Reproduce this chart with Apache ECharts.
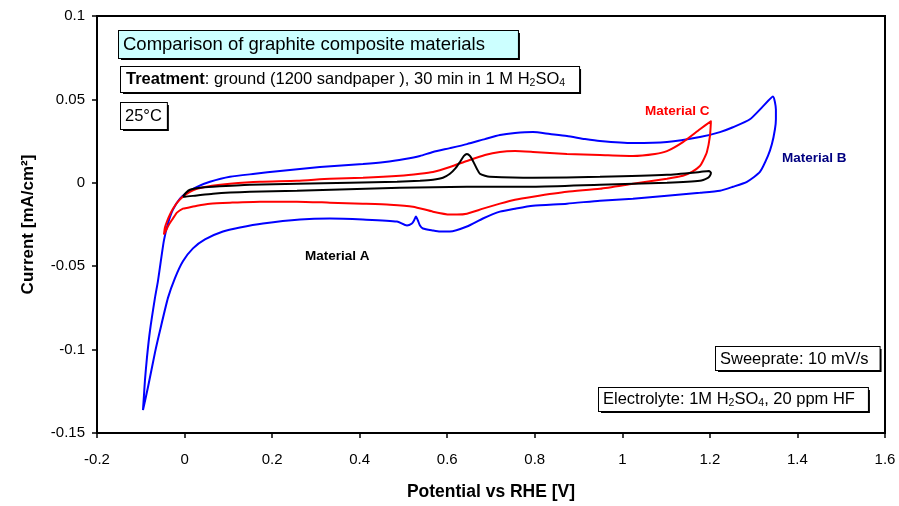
<!DOCTYPE html>
<html>
<head>
<meta charset="utf-8">
<script src="https://cdn.jsdelivr.net/npm/echarts@6/dist/echarts.min.js"></script>
<style>
  html, body { margin: 0; padding: 0; background: #fff; }
  #chart { width: 899px; height: 506px; }
</style>
</head>
<body>
<div id="chart"></div>
<script>
// Material A (black)
var potentialA = [-0.0037, 0.0032, 0.0123, 0.0352, 0.0649, 0.1494, 0.2567, 0.3778, 0.4852, 0.5377, 0.5674, 0.5902, 0.6062, 0.6176, 0.6291, 0.6382, 0.6450, 0.6519, 0.6588, 0.6679, 0.6747, 0.6862, 0.6976, 0.7958, 0.9488, 1.1019, 1.1772, 1.1978,
  1.2024, 1.2001, 1.1955, 1.1772, 1.1019, 0.9488, 0.7958, 0.6450, 0.4920, 0.2567, 0.1494, 0.0649, 0.0238, 0.0009, -0.0037];
var currentA = [-0.0083, -0.0060, -0.0042, -0.0030, -0.0024, -0.0012, -0.0006, 0.0000, 0.0006, 0.0012, 0.0018, 0.0030, 0.0054, 0.0083, 0.0125, 0.0161, 0.0173, 0.0161, 0.0131, 0.0083, 0.0054, 0.0042, 0.0036, 0.0030, 0.0036, 0.0048, 0.0065, 0.0071,
  0.0060, 0.0042, 0.0030, 0.0012, 0.0000, -0.0012, -0.0024, -0.0024, -0.0030, -0.0048, -0.0054, -0.0065, -0.0077, -0.0083, -0.0083];

// Material B (blue)
var potentialB = [-0.0950, -0.0927, -0.0905, -0.0859, -0.0790, -0.0676, -0.0608, -0.0539, -0.0471, -0.0379, -0.0265, -0.0105, 0.0078, 0.0283, 0.0580, 0.1037, 0.1608, 0.2179, 0.3093, 0.4075, 0.4577, 0.5034, 0.5377, 0.5674, 0.6062, 0.6450, 0.6862, 0.7204, 0.7547, 0.7958, 0.8346, 0.8734, 0.9146, 0.9488, 1.0242, 1.1019, 1.1772, 1.2229, 1.2526, 1.2915, 1.3211, 1.3440,
  1.3508, 1.3508, 1.3486, 1.3417, 1.3326, 1.3143, 1.2846, 1.2526, 1.2229, 1.1772, 1.1019, 1.0242, 0.9488, 0.8734, 0.7958, 0.7547, 0.7204, 0.6816, 0.6450, 0.6062, 0.5834, 0.5674, 0.5445, 0.5377, 0.5331, 0.5285, 0.5240, 0.5194, 0.5080, 0.4852, 0.4075, 0.3321, 0.2636, 0.1791, 0.1265, 0.0877, 0.0466, 0.0192, -0.0037, -0.0219, -0.0379, -0.0562, -0.0676, -0.0836, -0.0950];
var currentB = [-0.1363, -0.1274, -0.1185, -0.1048, -0.0887, -0.0690, -0.0589, -0.0464, -0.0345, -0.0244, -0.0161, -0.0095, -0.0054, -0.0024, 0.0006, 0.0036, 0.0054, 0.0071, 0.0095, 0.0113, 0.0125, 0.0143, 0.0161, 0.0185, 0.0208, 0.0232, 0.0262, 0.0286, 0.0298, 0.0304, 0.0292, 0.0280, 0.0262, 0.0250, 0.0238, 0.0244, 0.0274, 0.0304, 0.0333, 0.0381, 0.0458, 0.0518,
  0.0440, 0.0381, 0.0321, 0.0232, 0.0161, 0.0065, 0.0006, -0.0024, -0.0048, -0.0060, -0.0077, -0.0095, -0.0107, -0.0125, -0.0137, -0.0155, -0.0173, -0.0214, -0.0262, -0.0292, -0.0292, -0.0286, -0.0274, -0.0256, -0.0226, -0.0202, -0.0226, -0.0244, -0.0256, -0.0232, -0.0220, -0.0214, -0.0220, -0.0244, -0.0268, -0.0292, -0.0339, -0.0393, -0.0470, -0.0571, -0.0690, -0.0887, -0.1018, -0.1226, -0.1363];

// Material C (red)
var potentialC = [-0.0471, -0.0448, -0.0402, -0.0333, -0.0265, -0.0151, -0.0037, 0.0123, 0.0283, 0.0626, 0.1037, 0.1722, 0.2567, 0.3321, 0.4075, 0.4920, 0.5377, 0.5674, 0.6062, 0.6450, 0.6862, 0.7204, 0.7547, 0.7958, 0.8734, 0.9488, 1.0242, 1.0745, 1.1019, 1.1384, 1.1772, 1.2024,
  1.2001, 1.1932, 1.1841, 1.1772, 1.1590, 1.1384, 1.1019, 1.0242, 0.9488, 0.8734, 0.7958, 0.7547, 0.7204, 0.6816, 0.6450, 0.6222, 0.6062, 0.5674, 0.5217, 0.4692, 0.4075, 0.3321, 0.2567, 0.1722, 0.1037, 0.0580, 0.0283, 0.0078, -0.0037, -0.0174, -0.0265, -0.0356, -0.0425, -0.0471];
var currentC = [-0.0310, -0.0268, -0.0232, -0.0190, -0.0155, -0.0113, -0.0083, -0.0054, -0.0036, -0.0018, -0.0006, 0.0006, 0.0012, 0.0024, 0.0030, 0.0042, 0.0054, 0.0065, 0.0095, 0.0131, 0.0167, 0.0185, 0.0190, 0.0185, 0.0173, 0.0167, 0.0161, 0.0173, 0.0190, 0.0244, 0.0321, 0.0369,
  0.0280, 0.0185, 0.0131, 0.0101, 0.0065, 0.0042, 0.0024, -0.0006, -0.0036, -0.0054, -0.0083, -0.0101, -0.0125, -0.0155, -0.0185, -0.0190, -0.0190, -0.0173, -0.0143, -0.0131, -0.0125, -0.0119, -0.0113, -0.0113, -0.0119, -0.0125, -0.0137, -0.0149, -0.0155, -0.0179, -0.0214, -0.0250, -0.0286, -0.0310];

function pairs(xs, ys) {
  return xs.map(function (x, i) { return [x, ys[i]]; });
}

var FONT = '"Liberation Sans", Arial, sans-serif';

// text box with a drop shadow drawn as an offset black copy
function box(x, y, text, size, lh, fill, padding, rich) {
  var base = {
    text: text,
    fontFamily: FONT,
    fontSize: size,
    lineHeight: lh,
    padding: padding,
    rich: rich || {}
  };
  var shadow = Object.assign({}, base, { fill: '#000', backgroundColor: '#000' });
  var front = Object.assign({}, base, { fill: '#000', backgroundColor: fill, borderColor: '#000', borderWidth: 1 });
  return [
    { type: 'text', left: x + 3, top: y + 3, z: 10, style: shadow },
    { type: 'text', left: x, top: y, z: 11, style: front }
  ];
}

var subRich = {
  b: { fontWeight: 'bold', fontSize: 16.5, fontFamily: FONT, lineHeight: 19 },
  s: { fontSize: 10.5, fontFamily: FONT, verticalAlign: 'bottom', lineHeight: 19 }
};

var chart = echarts.init(document.getElementById('chart'));

var option = {
  backgroundColor: '#ffffff',
  animation: false,
  grid: {
    left: 97, right: 14, top: 16, bottom: 67,
    show: true, borderColor: '#000', borderWidth: 2
  },
  xAxis: {
    type: 'value',
    min: -0.2, max: 1.6, interval: 0.2,
    name: 'Potential vs RHE [V]',
    nameLocation: 'middle',
    nameGap: 50,
    nameTextStyle: { fontFamily: FONT, fontSize: 17.5, fontWeight: 'bold', color: '#000' },
    axisLine: { onZero: false, lineStyle: { color: '#000', width: 2 } },
    axisTick: { inside: false, length: 5, lineStyle: { color: '#000', width: 1.5 } },
    axisLabel: { color: '#000', fontFamily: FONT, fontSize: 15, margin: 19 },
    splitLine: { show: false }
  },
  yAxis: {
    type: 'value',
    min: -0.15, max: 0.1, interval: 0.05,
    name: 'Current [mA/cm²]',
    nameLocation: 'middle',
    nameGap: 60,
    nameTextStyle: { fontFamily: FONT, fontSize: 17, fontWeight: 'bold', color: '#000' },
    axisLine: { onZero: false, lineStyle: { color: '#000', width: 2 } },
    axisTick: { inside: false, length: 5, lineStyle: { color: '#000', width: 1.5 } },
    axisLabel: { color: '#000', fontFamily: FONT, fontSize: 15, margin: 12 },
    splitLine: { show: false }
  },
  series: [
    { name: 'Material B', type: 'line', data: pairs(potentialB, currentB), showSymbol: false, smooth: 0.2,
      lineStyle: { color: '#0000ff', width: 2 }, z: 3 },
    { name: 'Material C', type: 'line', data: pairs(potentialC, currentC), showSymbol: false, smooth: 0.2,
      lineStyle: { color: '#ff0000', width: 2 }, z: 4 },
    { name: 'Material A', type: 'line', data: pairs(potentialA, currentA), showSymbol: false, smooth: 0.2,
      lineStyle: { color: '#000000', width: 2 }, z: 5 }
  ],
  graphic: [].concat(
    box(118, 30, 'Comparison of graphite composite materials', 18.5, 21, '#ccffff', [3, 33, 3, 4]),
    box(120, 66, '{b|Treatment}: ground (1200 sandpaper ), 30 min in 1 M H{s|2}SO{s|4}', 16.5, 19, '#ffffff', [3, 14, 3, 5], subRich),
    box(120, 102, '25°C', 16.5, 19, '#ffffff', [4, 5, 3, 4]),
    box(715, 346, 'Sweeprate: 10 mV/s', 16.5, 18, '#ffffff', [3, 11, 2, 4]),
    box(598, 387, 'Electrolyte: 1M H{s|2}SO{s|4}, 20 ppm HF', 16.5, 19, '#ffffff', [2, 13, 2, 4], subRich),
    [
      { type: 'text', left: 645, top: 104, z: 12,
        style: { text: 'Material C', fill: '#ff0000', fontFamily: FONT, fontSize: 13.5, fontWeight: 'bold' } },
      { type: 'text', left: 782, top: 151, z: 12,
        style: { text: 'Material B', fill: '#000080', fontFamily: FONT, fontSize: 13.5, fontWeight: 'bold' } },
      { type: 'text', left: 305, top: 249, z: 12,
        style: { text: 'Material A', fill: '#000000', fontFamily: FONT, fontSize: 13.5, fontWeight: 'bold' } }
    ]
  )
};

chart.setOption(option);
</script>
</body>
</html>
